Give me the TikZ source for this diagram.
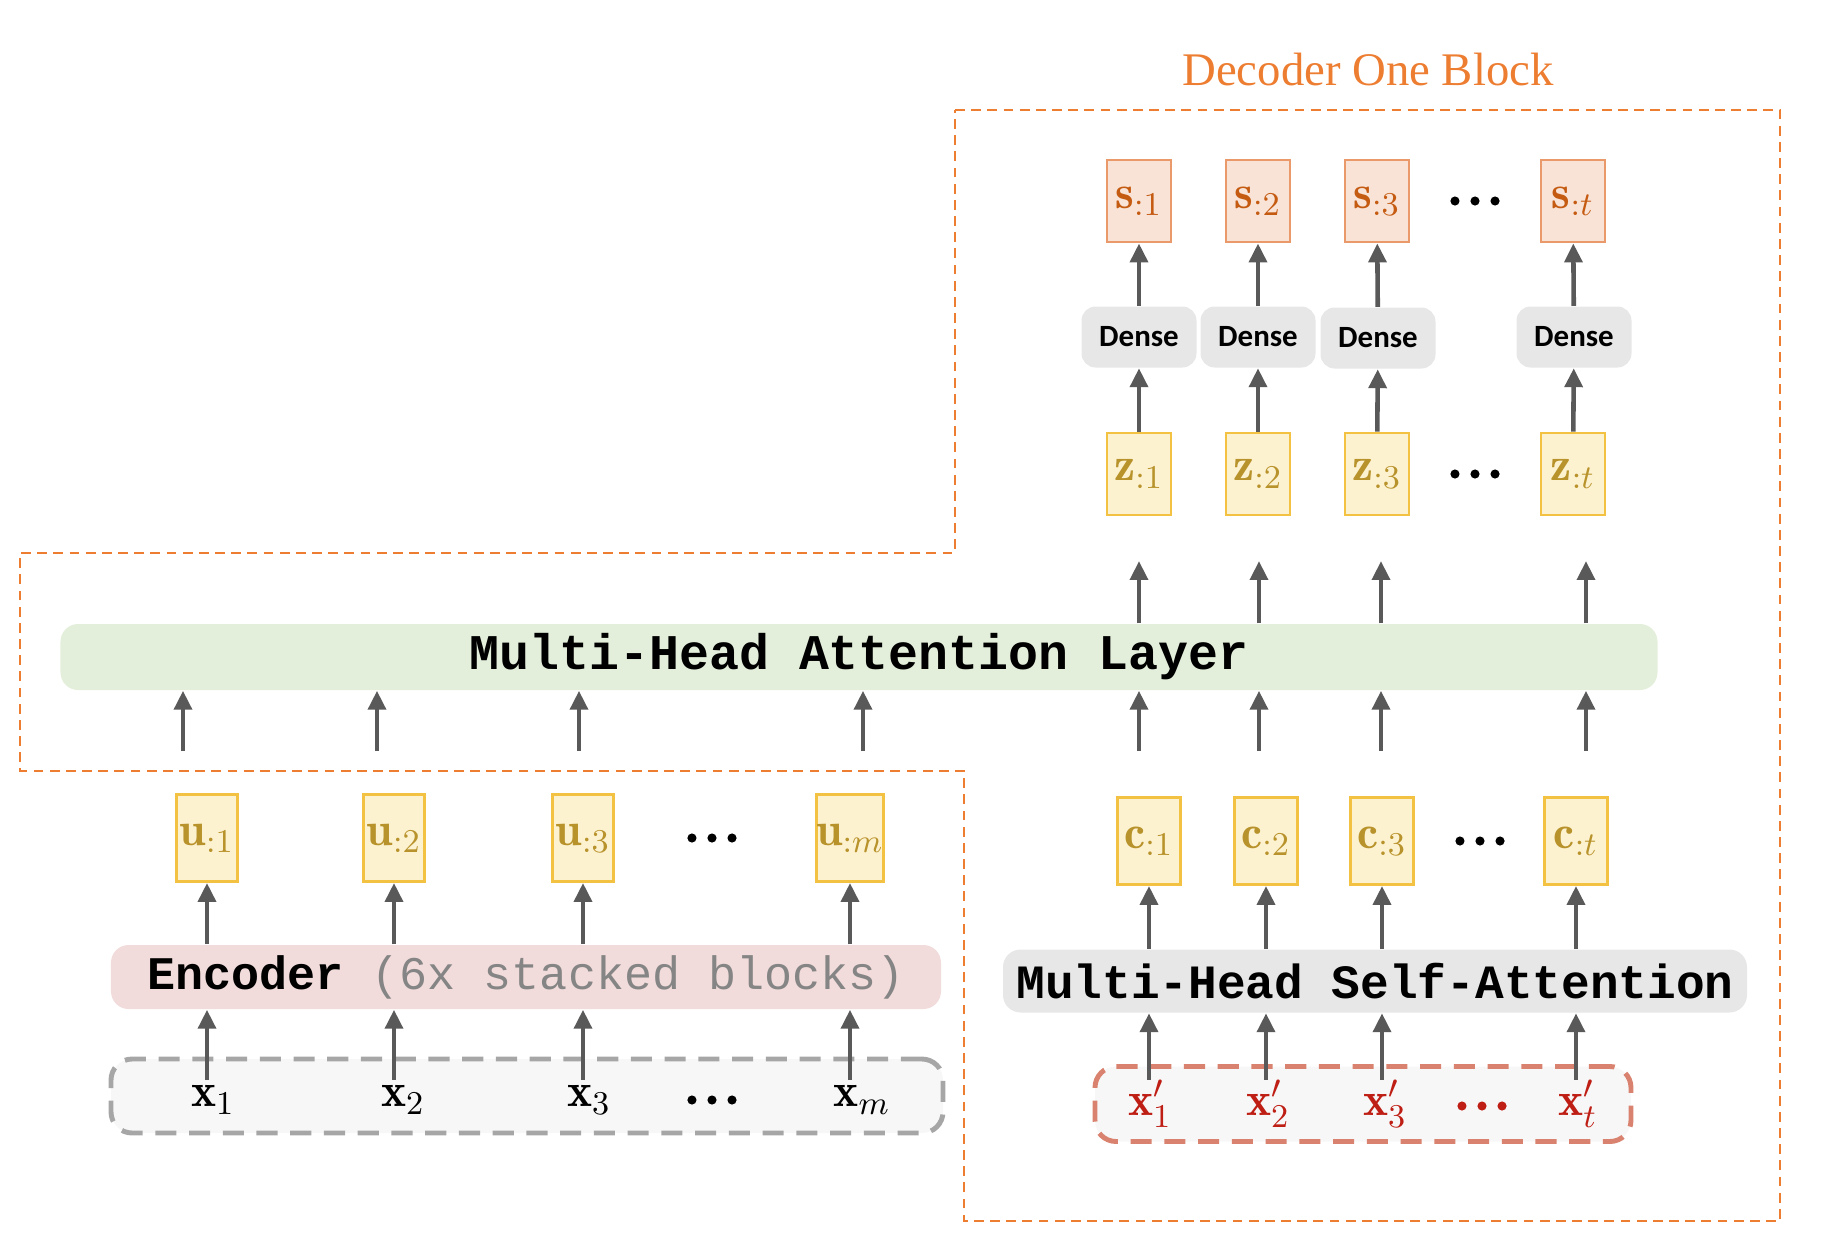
\documentclass[tikz,border=0pt]{standalone}
\usepackage{fix-cm}
\usepackage{fontspec}
\setmonofont{Liberation Mono}
\newfontfamily\densefont{Carlito}
\newfontfamily\titlefont{Liberation Serif}
\usetikzlibrary{arrows.meta}

\definecolor{blockorange}{HTML}{ED7D31}
\definecolor{vecfill}{HTML}{FDF2D0}
\definecolor{vecline}{HTML}{F4C242}
\definecolor{vectext}{HTML}{B8922A}
\definecolor{outfill}{HTML}{F8E3D6}
\definecolor{outline}{HTML}{EA9A6A}
\definecolor{outtext}{HTML}{C55A11}
\definecolor{densefill}{HTML}{E7E7E7}
\definecolor{mhafill}{HTML}{E3EFDA}
\definecolor{encfill}{HTML}{F2DCDB}
\definecolor{inputfill}{HTML}{F7F7F7}
\definecolor{inputline}{HTML}{A6A6A6}
\definecolor{primeline}{HTML}{D9826F}
\definecolor{primetext}{HTML}{BE1E14}
\definecolor{flowgray}{HTML}{595959}
\definecolor{parengray}{HTML}{858585}

\begin{document}
\begin{tikzpicture}[
    >={Triangle[width=5pt,length=5.4pt]},
    flow/.style={->, line width=1.3pt, draw=flowgray},
    vecbox/.style={draw=vecline, fill=vecfill, text=vectext, line width=0.8pt,
      minimum width=0.62cm, minimum height=0.86cm, inner sep=0pt,
      font={\fontsize{13.5}{16}\selectfont}},
    outbox/.style={vecbox, draw=outline, fill=outfill, text=outtext,
      minimum width=0.64cm, minimum height=0.82cm},
    densebox/.style={fill=densefill, rounded corners=4pt, minimum width=1.15cm,
      minimum height=0.61cm, inner sep=0pt,
      font={\densefont\bfseries\fontsize{8.8}{11}\selectfont}},
    layer/.style={rounded corners=5pt, inner sep=0pt},
    inputbox/.style={fill=inputfill, line width=1.4pt, rounded corners=6pt,
      dash pattern=on 6pt off 3.6pt},
    token/.style={inner sep=1.5pt, font={\fontsize{13.5}{16}\selectfont}},
    dotsnode/.style={minimum width=0.5cm, minimum height=0.2cm, inner sep=0pt,
      path picture={
        \fill ([xshift=-5.7pt]path picture bounding box.center) circle (1.3pt);
        \fill (path picture bounding box.center) circle (1.3pt);
        \fill ([xshift=5.7pt]path picture bounding box.center) circle (1.3pt);
      }}
  ]
    \useasboundingbox (0,0) rectangle (18.26,-12.55);

    % Decoder block outline.
    \node[text=blockorange, font={\titlefont\fontsize{13.3}{16}\selectfont}] (title) at (13.68,-0.70) {Decoder One Block};
    \draw[blockorange, line width=0.6pt, dash pattern=on 2.8pt off 1.8pt]
      (9.55,-1.10) -- (17.80,-1.10) -- (17.80,-12.21) -- (9.64,-12.21) -- (9.64,-7.71)
      -- (0.20,-7.71) -- (0.20,-5.53) -- (9.55,-5.53) -- cycle;

    % Outputs.
    \node[outbox] (s1) at (11.39,-2.01) {$\mathbf{s}_{:1}$};
    \node[outbox] (s2) at (12.58,-2.01) {$\mathbf{s}_{:2}$};
    \node[outbox] (s3) at (13.77,-2.01) {$\mathbf{s}_{:3}$};
    \node[outbox] (s4) at (15.73,-2.01) {$\mathbf{s}_{:t}$};
    \node[dotsnode] (sdots) at (14.75,-2.01) {};

    % Dense layers.
    \node[densebox] (d1) at (11.39,-3.37) {Dense};
    \node[densebox] (d2) at (12.58,-3.37) {Dense};
    \node[densebox] (d3) at (13.78,-3.38) {Dense};
    \node[densebox] (d4) at (15.74,-3.37) {Dense};

    % Attention outputs.
    \node[vecbox, minimum width=0.64cm, minimum height=0.82cm] (z1) at (11.39,-4.74) {$\mathbf{z}_{:1}$};
    \node[vecbox, minimum width=0.64cm, minimum height=0.82cm] (z2) at (12.58,-4.74) {$\mathbf{z}_{:2}$};
    \node[vecbox, minimum width=0.64cm, minimum height=0.82cm] (z3) at (13.77,-4.74) {$\mathbf{z}_{:3}$};
    \node[vecbox, minimum width=0.64cm, minimum height=0.82cm] (z4) at (15.73,-4.74) {$\mathbf{z}_{:t}$};
    \node[dotsnode] (zdots) at (14.75,-4.74) {};

    % Multi-head attention.
    \node[layer, fill=mhafill, minimum width=15.97cm, minimum height=0.66cm,
      font={\ttfamily\bfseries\fontsize{14.2}{17}\selectfont}] (mha) at (8.59,-6.57) {Multi-Head Attention Layer};
    \coordinate (zin1) at (11.39,-5.61);
    \coordinate (zin2) at (12.59,-5.61);
    \coordinate (zin3) at (13.81,-5.61);
    \coordinate (zin4) at (15.86,-5.61);
    \coordinate (kv1) at (1.83,-7.51);
    \coordinate (kv2) at (3.77,-7.51);
    \coordinate (kv3) at (5.79,-7.51);
    \coordinate (kv4) at (8.63,-7.51);
    \coordinate (q1) at (11.39,-7.51);
    \coordinate (q2) at (12.59,-7.51);
    \coordinate (q3) at (13.81,-7.51);
    \coordinate (q4) at (15.86,-7.51);

    % Encoder side.
    \node[vecbox, minimum width=0.61cm, minimum height=0.87cm] (u1) at (2.07,-8.38) {$\mathbf{u}_{:1}$};
    \node[vecbox, minimum width=0.61cm, minimum height=0.87cm] (u2) at (3.94,-8.38) {$\mathbf{u}_{:2}$};
    \node[vecbox, minimum width=0.61cm, minimum height=0.87cm] (u3) at (5.83,-8.38) {$\mathbf{u}_{:3}$};
    \node[vecbox, minimum width=0.61cm, minimum height=0.87cm] (u4) at (8.50,-8.38) {$\mathbf{u}_{:m}$};
    \node[dotsnode] (udots) at (7.12,-8.38) {};
    \node[layer, fill=encfill, minimum width=8.30cm, minimum height=0.64cm,
      font={\ttfamily\fontsize{13.3}{16}\selectfont}] (enc) at (5.26,-9.77) {\textbf{Encoder} \textcolor{parengray}{(6x stacked blocks)}};
    \node[inputbox, draw=inputline, minimum width=8.32cm, minimum height=0.74cm] (xin) at (5.27,-10.96) {};
    \node[token] (x1) at (2.13,-11.00) {$\mathbf{x}_1$};
    \node[token] (x2) at (4.03,-11.00) {$\mathbf{x}_2$};
    \node[token] (x3) at (5.89,-11.00) {$\mathbf{x}_3$};
    \node[token] (x4) at (8.62,-11.00) {$\mathbf{x}_m$};
    \node[dotsnode] (xdots) at (7.12,-11.00) {};

    % Decoder input side.
    \node[vecbox, minimum width=0.63cm, minimum height=0.87cm] (c1) at (11.49,-8.41) {$\mathbf{c}_{:1}$};
    \node[vecbox, minimum width=0.63cm, minimum height=0.87cm] (c2) at (12.66,-8.41) {$\mathbf{c}_{:2}$};
    \node[vecbox, minimum width=0.63cm, minimum height=0.87cm] (c3) at (13.82,-8.41) {$\mathbf{c}_{:3}$};
    \node[vecbox, minimum width=0.63cm, minimum height=0.87cm] (c4) at (15.76,-8.41) {$\mathbf{c}_{:t}$};
    \node[dotsnode] (cdots) at (14.80,-8.41) {};
    \node[layer, fill=densefill, minimum width=7.44cm, minimum height=0.63cm,
      font={\ttfamily\bfseries\fontsize{13.6}{16}\selectfont}] (mhsa) at (13.75,-9.81) {Multi-Head Self-Attention};
    \node[inputbox, draw=primeline, minimum width=5.36cm, minimum height=0.75cm] (xpin) at (13.63,-11.04) {};
    \node[token, inner sep=0pt, text=primetext] (xp1) at (11.50,-11.04) {$\mathbf{x}'_1$};
    \node[token, inner sep=0pt, text=primetext] (xp2) at (12.68,-11.04) {$\mathbf{x}'_2$};
    \node[token, inner sep=0pt, text=primetext] (xp3) at (13.85,-11.04) {$\mathbf{x}'_3$};
    \node[token, inner sep=0pt, text=primetext] (xp4) at (15.78,-11.04) {$\mathbf{x}'_t$};
    \node[dotsnode, color=primetext] (xpdots) at (14.82,-11.06) {};

    % Arrows.
    \draw[flow] (z1) -- (d1);
    \draw[flow] (z2) -- (d2);
    \draw[flow] (z3) -- (d3);
    \draw[flow] (z4) -- (d4);
    \draw[flow] (d1) -- (s1);
    \draw[flow] (d2) -- (s2);
    \draw[flow] (d3) -- (s3);
    \draw[flow] (d4) -- (s4);
    \draw[flow] (mha.north -| zin1) -- (zin1);
    \draw[flow] (mha.north -| zin2) -- (zin2);
    \draw[flow] (mha.north -| zin3) -- (zin3);
    \draw[flow] (mha.north -| zin4) -- (zin4);
    \draw[flow] (kv1) -- (kv1 |- mha.south);
    \draw[flow] (kv2) -- (kv2 |- mha.south);
    \draw[flow] (kv3) -- (kv3 |- mha.south);
    \draw[flow] (kv4) -- (kv4 |- mha.south);
    \draw[flow] (q1) -- (q1 |- mha.south);
    \draw[flow] (q2) -- (q2 |- mha.south);
    \draw[flow] (q3) -- (q3 |- mha.south);
    \draw[flow] (q4) -- (q4 |- mha.south);
    \draw[flow] (enc.north -| u1) -- (u1);
    \draw[flow] (enc.north -| u2) -- (u2);
    \draw[flow] (enc.north -| u3) -- (u3);
    \draw[flow] (enc.north -| u4) -- (u4);
    \draw[flow] (x1.north -| u1) -- (enc.south -| u1);
    \draw[flow] (x2.north -| u2) -- (enc.south -| u2);
    \draw[flow] (x3.north -| u3) -- (enc.south -| u3);
    \draw[flow] (x4.north -| u4) -- (enc.south -| u4);
    \draw[flow] (mhsa.north -| c1) -- (c1);
    \draw[flow] (mhsa.north -| c2) -- (c2);
    \draw[flow] (mhsa.north -| c3) -- (c3);
    \draw[flow] (mhsa.north -| c4) -- (c4);
    \draw[flow] (xp1.north -| c1) -- (mhsa.south -| c1);
    \draw[flow] (xp2.north -| c2) -- (mhsa.south -| c2);
    \draw[flow] (xp3.north -| c3) -- (mhsa.south -| c3);
    \draw[flow] (xp4.north -| c4) -- (mhsa.south -| c4);

  \end{tikzpicture}
\end{document}
